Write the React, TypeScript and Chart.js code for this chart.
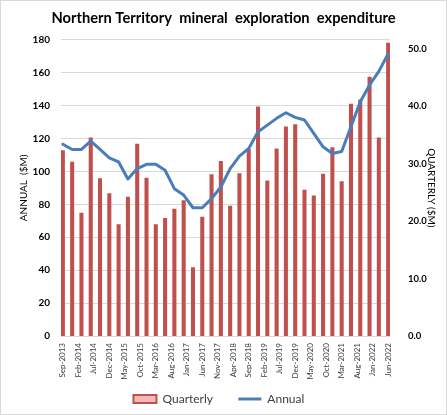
import { useEffect, useRef } from 'react';
import { Chart, registerables } from 'chart.js';

Chart.register(...registerables);

// Quarter ending dates, Sep-2013 to Jun-2022
const quarters = [
  'Sep-2013', 'Dec-2013', 'Mar-2014', 'Jun-2014', 'Sep-2014', 'Dec-2014',
  'Mar-2015', 'Jun-2015', 'Sep-2015', 'Dec-2015', 'Mar-2016', 'Jun-2016',
  'Sep-2016', 'Dec-2016', 'Mar-2017', 'Jun-2017', 'Sep-2017', 'Dec-2017',
  'Mar-2018', 'Jun-2018', 'Sep-2018', 'Dec-2018', 'Mar-2019', 'Jun-2019',
  'Sep-2019', 'Dec-2019', 'Mar-2020', 'Jun-2020', 'Sep-2020', 'Dec-2020',
  'Mar-2021', 'Jun-2021', 'Sep-2021', 'Dec-2021', 'Mar-2022', 'Jun-2022',
];

// Quarterly expenditure ($M, right axis)
const quarterly = [
  32.3, 30.3, 21.4, 34.5, 27.4, 24.8, 19.4, 24.2, 33.4, 27.5, 19.4, 20.5,
  22.1, 23.6, 11.9, 20.7, 28.1, 30.4, 22.6, 28.3, 32.5, 39.9, 27.0, 32.6,
  36.4, 36.8, 25.4, 24.4, 28.2, 32.8, 26.9, 40.4, 41.1, 45.1, 34.5, 51.0,
];

// Annual (rolling four-quarter) expenditure ($M, left axis)
const annual = [
  116.5, 113.3, 113.3, 118.4, 113.3, 108.2, 105.7, 95.4, 101.7, 104.3, 104.3, 100.7,
  89.5, 85.6, 77.9, 77.9, 83.4, 90.5, 101.7, 109.2, 113.9, 124.0, 128.1, 132.2,
  135.6, 132.8, 131.2, 123.1, 114.9, 110.9, 112.1, 127.1, 142.3, 152.5, 160.7, 171.4,
];

// Date-axis labels, one every five months from Sep-2013
const tickLabels = [
  'Sep-2013', 'Feb-2014', 'Jul-2014', 'Dec-2014', 'May-2015', 'Oct-2015',
  'Mar-2016', 'Aug-2016', 'Jan-2017', 'Jun-2017', 'Nov-2017', 'Apr-2018',
  'Sep-2018', 'Feb-2019', 'Jul-2019', 'Dec-2019', 'May-2020', 'Oct-2020',
  'Mar-2021', 'Aug-2021', 'Jan-2022', 'Jun-2022',
];

const annualMax = 180;
const annualStep = 20;
const quarterlyTicks = [0, 10, 20, 30, 40, 50];
const quarterlyMax = 51.6;

const FONT = 'Lato, "Open Sans", "DejaVu Sans", sans-serif';
const RED = '#C0504D';
const BLUE = '#4A7EBB';
const GRID = '#D9D9D9';

// x axis is measured in months since the first quarter
const MONTHS_PER_QUARTER = 3;
const MONTHS_PER_LABEL = 5;

// extra room after each legend entry
const GAP_AFTER_QUARTERLY = '     ';
const GAP_AFTER_ANNUAL = '   ';

export default function App() {
  const canvasRef = useRef<HTMLCanvasElement | null>(null);

  useEffect(() => {
    const canvas = canvasRef.current;
    if (!canvas) return;

    const chart = new Chart(canvas, {
      type: 'bar',
      data: {
        datasets: [
          {
            type: 'bar',
            label: 'Quarterly',
            data: quarterly.map((v, i) => ({ x: i * MONTHS_PER_QUARTER, y: v, q: quarters[i] })),
            yAxisID: 'yQ',
            backgroundColor: RED,
            borderWidth: 0,
            barThickness: 3.4,
            order: 1,
          },
          {
            type: 'line',
            label: 'Annual',
            data: annual.map((v, i) => ({ x: i * MONTHS_PER_QUARTER, y: v, q: quarters[i] })),
            yAxisID: 'y',
            borderColor: BLUE,
            backgroundColor: BLUE,
            borderWidth: 3,
            pointRadius: 0,
            tension: 0,
            borderCapStyle: 'round',
            borderJoinStyle: 'round',
            order: 0,
          },
        ],
      } as any,
      options: {
        responsive: false,
        animation: false,
        events: [],
        layout: { padding: 0 },
        plugins: {
          title: {
            display: true,
            text: 'Northern Territory  mineral  exploration  expenditure',
            color: '#000000',
            font: { family: FONT, size: 14.7, weight: 'bold' },
            padding: { top: 9, bottom: 13 },
          },
          legend: {
            display: true,
            position: 'bottom',
            maxHeight: 33,
            labels: {
              usePointStyle: true,
              pointStyleWidth: 23,
              boxHeight: 8,
              padding: 10,
              color: '#404040',
              font: { family: FONT, size: 12 },
              generateLabels: (c: any) => {
                const ds = c.data.datasets;
                return [
                  {
                    text: ds[0].label + GAP_AFTER_QUARTERLY,
                    datasetIndex: 0,
                    fillStyle: '#F3B9B7',
                    strokeStyle: RED,
                    lineWidth: 2,
                    pointStyle: 'rect',
                    fontColor: '#404040',
                    hidden: false,
                  },
                  {
                    text: ds[1].label + GAP_AFTER_ANNUAL,
                    datasetIndex: 1,
                    fillStyle: BLUE,
                    strokeStyle: BLUE,
                    lineWidth: 3,
                    pointStyle: 'line',
                    fontColor: '#404040',
                    hidden: false,
                  },
                ];
              },
            },
          },
          tooltip: { enabled: false },
        },
        scales: {
          x: {
            type: 'linear',
            offset: false,
            min: -0.6,
            max: (quarters.length - 1) * MONTHS_PER_QUARTER + 0.6,
            grid: { display: false, drawTicks: false },
            border: { display: false },
            afterBuildTicks: (scale: any) => {
              scale.ticks = tickLabels.map((_, i) => ({ value: i * MONTHS_PER_LABEL }));
            },
            afterFit: (scale: any) => {
              scale.height = 47;
            },
            ticks: {
              autoSkip: false,
              minRotation: 90,
              maxRotation: 90,
              padding: 7,
              color: '#404040',
              font: { family: FONT, size: 8 },
              callback: (v: any) => tickLabels[Math.round(Number(v) / MONTHS_PER_LABEL)] ?? '',
            },
          },
          y: {
            type: 'linear',
            position: 'left',
            min: 0,
            max: annualMax,
            grid: { color: GRID, lineWidth: 1, drawTicks: false },
            border: { display: false },
            afterFit: (scale: any) => {
              scale.width = 61;
            },
            ticks: {
              stepSize: annualStep,
              padding: 11,
              color: '#000000',
              font: { family: FONT, size: 10, weight: 'bold' },
            },
            title: {
              display: true,
              text: 'ANNUAL  ($M)',
              color: '#000000',
              font: { family: FONT, size: 10 },
              padding: { top: 18, bottom: 0 },
            },
          },
          yQ: {
            type: 'linear',
            position: 'right',
            min: 0,
            max: quarterlyMax,
            grid: { display: false, drawTicks: false },
            border: { display: false },
            afterBuildTicks: (scale: any) => {
              scale.ticks = quarterlyTicks.map((v) => ({ value: v }));
            },
            afterFit: (scale: any) => {
              scale.width = 57;
            },
            ticks: {
              padding: 18,
              color: '#000000',
              font: { family: FONT, size: 9.5, weight: 'bold' },
              callback: (v: any) => Number(v).toFixed(1),
            },
            title: {
              display: true,
              text: 'QUARTERLY ($M)',
              color: '#000000',
              font: { family: FONT, size: 10 },
              padding: { top: 10, bottom: 0 },
            },
          },
        },
      } as any,
    });

    return () => {
      chart.destroy();
    };
  }, []);

  return (
    <div
      style={{
        position: 'fixed',
        left: 0,
        top: 0,
        width: 447,
        height: 415,
        background: '#FFFFFF',
      }}
    >
      <canvas ref={canvasRef} width={447} height={415} style={{ display: 'block' }} />
      <div
        style={{
          position: 'absolute',
          inset: 0,
          border: '1px solid #D9D9D9',
          boxSizing: 'border-box',
          pointerEvents: 'none',
        }}
      />
    </div>
  );
}
